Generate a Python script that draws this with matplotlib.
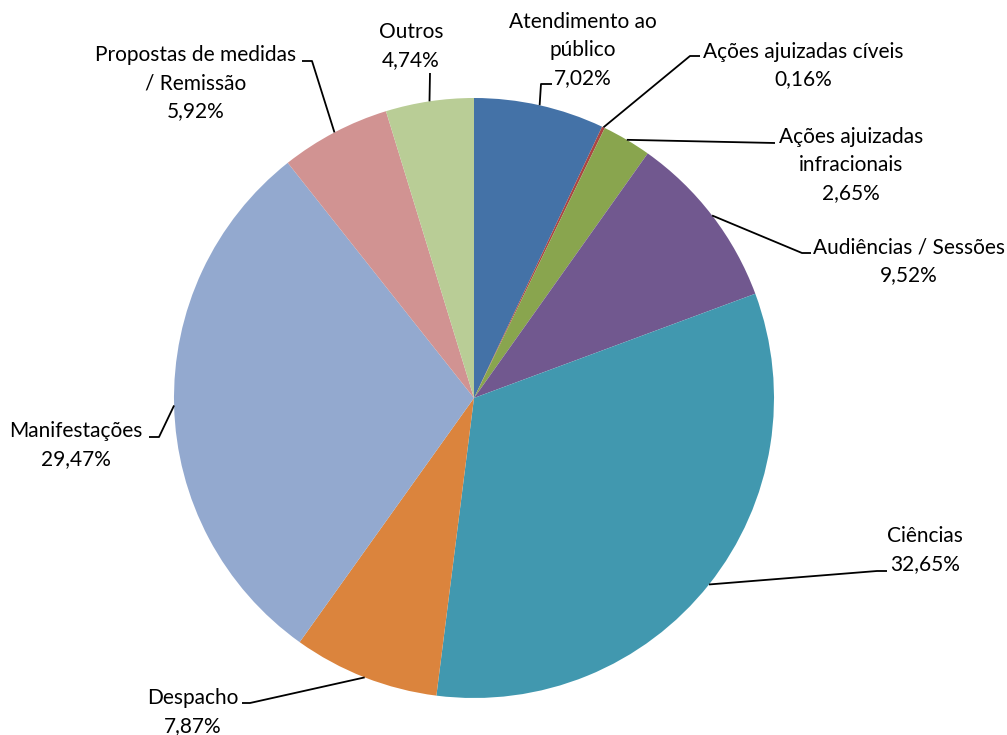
import numpy as np
import matplotlib
matplotlib.use("Agg")
import matplotlib.pyplot as plt

categories = ["Atendimento ao\npúblico", "Ações ajuizadas cíveis", "Ações ajuizadas\ninfracionais",
              "Audiências / Sessões", "Ciências", "Despacho", "Manifestações",
              "Propostas de medidas\n/ Remissão", "Outros"]
values = [7.02, 0.16, 2.65, 9.52, 32.65, 7.87, 29.47, 5.92, 4.74]
value_labels = ["7,02%", "0,16%", "2,65%", "9,52%", "32,65%", "7,87%", "29,47%", "5,92%", "4,74%"]
colors = ["#4472A7", "#AA4643", "#89A54E", "#71588F", "#4198AF", "#DB843D", "#93A9CF", "#D19392", "#B9CD96"]

W, H = 1007, 735
fig = plt.figure(figsize=(W / 100, H / 100), dpi=100)
ax = fig.add_axes([0, 0, 1, 1])

cx, cy, R = 474, H - 398, 300
wedges, _ = ax.pie(values, colors=colors, startangle=90, counterclock=False,
                   center=(cx, cy), radius=R, frame=True,
                   wedgeprops=dict(linewidth=0))
ax.set_xlim(0, W)
ax.set_ylim(0, H)
ax.set_aspect("equal")
ax.axis("off")

# label layout: text block centre and leader elbow points, pixel coords (y from top)
layout = [
    dict(tx=583, ty=50, pts=[(541, 84), (552, 84)]),
    dict(tx=803, ty=65.5, pts=[(690, 56), (700, 56)]),
    dict(tx=851, ty=165, pts=[(775, 143)]),
    dict(tx=909, ty=261, pts=[(802, 253), (811, 253)]),
    dict(tx=925, ty=550, pts=[(877, 571), (887, 571)]),
    dict(tx=193, ty=712, pts=[(250, 703), (242, 703)]),
    dict(tx=76, ty=445, pts=[(159, 437), (149, 437)]),
    dict(tx=196, ty=83, pts=[(312, 61), (302, 61)]),
    dict(tx=411, ty=46, pts=[(430, 73)]),
]

font = dict(family=["Lato", "DejaVu Sans"], fontsize=15, color="#000000")
for w, cat, vl, lay in zip(wedges, categories, value_labels, layout):
    mid = np.deg2rad((w.theta1 + w.theta2) / 2)
    px, py = cx + R * np.cos(mid), cy + R * np.sin(mid)
    xs = [px] + [p[0] for p in lay["pts"]]
    ys = [py] + [H - p[1] for p in lay["pts"]]
    ax.plot(xs, ys, color="black", lw=1.3, solid_capstyle="butt")
    ax.text(lay["tx"], H - lay["ty"], cat + "\n" + vl, ha="center", va="center",
            linespacing=1.5, **font)

fig.savefig("out.png", dpi=100, facecolor="white")
